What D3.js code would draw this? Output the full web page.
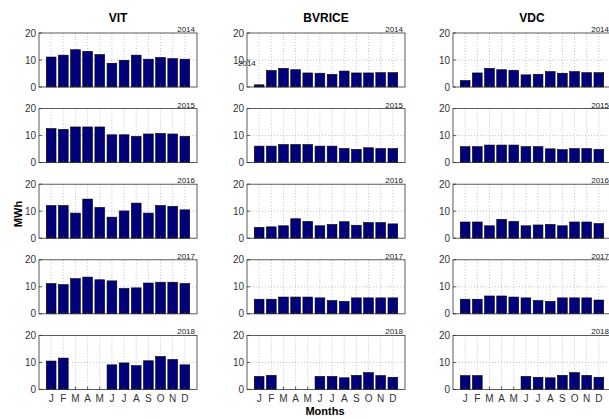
<!DOCTYPE html>
<html lang="en">
  <head>
    <meta charset="UTF-8" />
    <title>Monthly energy by site</title>
    <script src="https://d3js.org/d3.v7.min.js"></script>
    <style>
      body {
        margin: 0;
        background: white;
        font-family: 'Liberation Sans', Arial, sans-serif;
      }
      svg {
        display: block;
      }
      .tick-label {
        font-size: 10px;
        fill: #333;
      }
      .year-label {
        font-size: 8px;
        fill: #222;
      }
    </style>
  </head>
  <body>
    <svg width="609" height="419"></svg>

    <script>
      const months = ['J', 'F', 'M', 'A', 'M', 'J', 'J', 'A', 'S', 'O', 'N', 'D'];
      const years = ['2014', '2015', '2016', '2017', '2018'];
      const sites = ['VIT', 'BVRICE', 'VDC'];
      const yTicks = [0, 10, 20];

      // one row of 12 monthly values per year, null = no data
      const vit = [
        [11.1, 11.8, 13.8, 13.2, 12.0, 8.8, 9.9, 11.8, 10.3, 10.9, 10.5, 10.3],
        [12.6, 12.3, 13.2, 13.2, 13.2, 10.3, 10.3, 9.7, 10.6, 10.8, 10.6, 9.7],
        [12.1, 12.1, 9.3, 14.5, 11.4, 7.8, 10.1, 13.0, 9.3, 12.1, 11.8, 10.5],
        [11.2, 10.8, 13.0, 13.6, 12.6, 12.2, 9.4, 9.6, 11.4, 11.7, 11.7, 11.2],
        [10.5, 11.6, null, null, null, 9.1, 9.8, 8.8, 10.6, 12.2, 11.1, 9.1],
      ];
      const bvrice = [
        [0.8, 6.1, 6.9, 6.4, 5.2, 5.1, 4.7, 5.9, 5.2, 5.2, 5.3, 5.3],
        [6.1, 6.1, 6.7, 6.7, 6.7, 6.1, 6.1, 5.2, 4.9, 5.5, 5.2, 5.2],
        [4.0, 4.2, 4.6, 7.2, 6.2, 4.6, 5.1, 6.1, 4.8, 5.8, 5.8, 5.3],
        [5.4, 5.4, 6.2, 6.2, 6.2, 5.9, 4.9, 4.6, 5.9, 5.9, 5.9, 5.9],
        [4.8, 5.2, null, null, null, 4.8, 4.8, 4.3, 5.2, 6.2, 5.1, 4.5],
      ];
      const vdc = [
        [2.4, 5.2, 6.9, 6.4, 6.2, 4.5, 4.7, 5.7, 5.1, 5.7, 5.3, 5.3],
        [5.9, 5.9, 6.5, 6.5, 6.5, 5.9, 5.9, 5.1, 4.8, 5.2, 5.2, 4.9],
        [6.0, 6.0, 4.6, 7.0, 6.2, 4.6, 4.9, 5.1, 4.6, 6.0, 6.0, 5.4],
        [5.4, 5.4, 6.6, 6.6, 6.2, 5.9, 4.9, 4.6, 5.9, 5.9, 5.9, 5.1],
        [5.1, 5.1, null, null, null, 4.8, 4.5, 4.3, 5.2, 6.2, 5.2, 4.5],
      ];
      const siteData = [vit, bvrice, vdc];

      const svg = d3.select('svg');

      const colLeft = [39, 247, 453];
      const rowTop = years.map((d, i) => 33 + i * 75.6);
      const panelW = 158,
        panelH = 54;

      const x = d3.scaleLinear().domain([0, 13]).range([0, panelW]);
      const y = d3.scaleLinear().domain([0, 20]).range([panelH, 0]);
      const barW = x(0.8) - x(0);

      siteData.forEach((rows, c) => {
        rows.forEach((vals, r) => {
          const g = svg
            .append('g')
            .attr('transform', `translate(${colLeft[c]},${rowTop[r]})`);

          // dotted grid
          g.selectAll('.vgrid')
            .data(months)
            .join('line')
            .attr('x1', (d, i) => x(i + 1))
            .attr('x2', (d, i) => x(i + 1))
            .attr('y1', 0)
            .attr('y2', panelH)
            .attr('stroke', '#999')
            .attr('stroke-width', 0.6)
            .attr('stroke-dasharray', '1,2');
          g.append('line')
            .attr('x1', 0)
            .attr('x2', panelW)
            .attr('y1', y(10))
            .attr('y2', y(10))
            .attr('stroke', '#999')
            .attr('stroke-width', 0.6)
            .attr('stroke-dasharray', '1,2');

          // bars
          g.selectAll('rect.bar')
            .data(vals.map((v, i) => ({ v, i })).filter((d) => d.v !== null))
            .join('rect')
            .attr('class', 'bar')
            .attr('x', (d) => x(d.i + 1) - barW / 2)
            .attr('width', barW)
            .attr('y', (d) => y(d.v))
            .attr('height', (d) => y(0) - y(d.v))
            .attr('fill', '#00007a')
            .attr('stroke', '#000')
            .attr('stroke-width', 0.6);

          // box
          g.append('rect')
            .attr('width', panelW)
            .attr('height', panelH)
            .attr('fill', 'none')
            .attr('stroke', '#333')
            .attr('stroke-width', 0.8);

          // y ticks
          g.selectAll('.ytick')
            .data(yTicks)
            .join('line')
            .attr('x1', 0)
            .attr('x2', 3)
            .attr('y1', (d) => y(d))
            .attr('y2', (d) => y(d))
            .attr('stroke', '#333')
            .attr('stroke-width', 0.8);
          g.selectAll('.ylab')
            .data(yTicks)
            .join('text')
            .attr('class', 'tick-label')
            .attr('x', -3)
            .attr('y', (d) => y(d) + 3.5)
            .attr('text-anchor', 'end')
            .text((d) => d);

          // x ticks
          g.selectAll('.xtick')
            .data(months)
            .join('line')
            .attr('x1', (d, i) => x(i + 1))
            .attr('x2', (d, i) => x(i + 1))
            .attr('y1', panelH)
            .attr('y2', panelH - 3)
            .attr('stroke', '#333')
            .attr('stroke-width', 0.8);

          if (r === years.length - 1) {
            g.selectAll('.xlab')
              .data(months)
              .join('text')
              .attr('class', 'tick-label')
              .attr('x', (d, i) => x(i + 1))
              .attr('y', panelH + 13)
              .attr('text-anchor', 'middle')
              .text((d) => d);
          }

          // year tag
          g.append('text')
            .attr('class', 'year-label')
            .attr('x', panelW - 2)
            .attr('y', -1)
            .attr('text-anchor', 'end')
            .text(years[r]);

          // stray year text in BVRICE 2014 (sits just under the "10" label)
          if (c === 1 && r === 0) {
            g.append('text')
              .attr('class', 'year-label')
              .attr('x', x(0) - 9)
              .attr('y', y(7.6))
              .text(years[0]);
          }

          if (r === 0) {
            svg
              .append('text')
              .attr('x', colLeft[c] + panelW / 2)
              .attr('y', 22)
              .attr('text-anchor', 'middle')
              .attr('font-size', 12)
              .attr('font-weight', 'bold')
              .text(sites[c]);
          }
        });
      });

      svg
        .append('text')
        .attr('x', 325)
        .attr('y', 415)
        .attr('text-anchor', 'middle')
        .attr('font-size', 11)
        .attr('font-weight', 'bold')
        .text('Months');

      svg
        .append('text')
        .attr('transform', 'translate(22,214) rotate(-90)')
        .attr('text-anchor', 'middle')
        .attr('font-size', 11)
        .attr('font-weight', 'bold')
        .text('MWh');
    </script>
  </body>
</html>
